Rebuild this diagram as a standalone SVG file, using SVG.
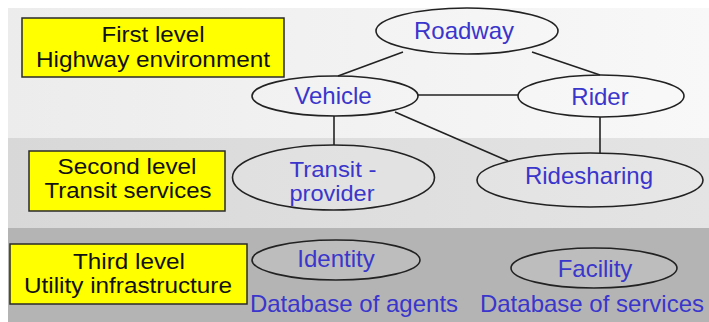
<svg xmlns="http://www.w3.org/2000/svg" width="709" height="322" viewBox="0 0 709 322">
<defs>
<linearGradient id="g1" x1="0" y1="0" x2="1" y2="0">
<stop offset="0" stop-color="#ececec"/>
<stop offset="1" stop-color="#f8f8f8"/>
</linearGradient>
<linearGradient id="g2" x1="0" y1="0" x2="1" y2="0">
<stop offset="0" stop-color="#d8d8d8"/>
<stop offset="1" stop-color="#e4e4e4"/>
</linearGradient>
<style>
.box{fill:#ffff00;stroke:#2a2a2a;stroke-width:1.5}
.lt{font-family:"Liberation Sans",Arial,sans-serif;font-size:22px;fill:#111;text-anchor:middle}
.el{fill:#ffffff;fill-opacity:0.12;stroke:#222;stroke-width:1.6}
.nt{font-family:"Liberation Sans",Arial,sans-serif;font-size:24px;fill:#3a36cc;text-anchor:middle}
.nt2{font-family:"Liberation Sans",Arial,sans-serif;font-size:22px;fill:#3a36cc;text-anchor:middle}
.cn{stroke:#222;stroke-width:1.6;fill:none}
</style>
</defs>
<rect x="0" y="0" width="709" height="322" fill="#ffffff"/>
<rect x="8" y="8" width="701" height="130" fill="url(#g1)"/>
<rect x="8" y="138" width="701" height="90" fill="url(#g2)"/>
<rect x="8" y="228" width="701" height="94" fill="#b4b4b4"/>
<g id="level1">
<rect class="box" x="22" y="18" width="262" height="59"/>
<text class="lt" x="153" y="42" textLength="103" lengthAdjust="spacingAndGlyphs">First level</text>
<text class="lt" x="153" y="67" textLength="234" lengthAdjust="spacingAndGlyphs">Highway environment</text>
</g>
<g id="level2">
<rect class="box" x="29" y="151" width="196" height="60"/>
<text class="lt" x="127" y="174" textLength="139" lengthAdjust="spacingAndGlyphs">Second level</text>
<text class="lt" x="128" y="198" textLength="167" lengthAdjust="spacingAndGlyphs">Transit services</text>
</g>
<g id="level3">
<rect class="box" x="10" y="244" width="237" height="60"/>
<text class="lt" x="129" y="269" textLength="112" lengthAdjust="spacingAndGlyphs">Third level</text>
<text class="lt" x="128" y="293" textLength="208" lengthAdjust="spacingAndGlyphs">Utility infrastructure</text>
</g>
<g id="connectors">
<line class="cn" x1="403" y1="52" x2="338" y2="76"/>
<line class="cn" x1="532" y1="52" x2="600" y2="75"/>
<line class="cn" x1="418" y1="95" x2="518" y2="95"/>
<line class="cn" x1="334" y1="116" x2="334" y2="145"/>
<line class="cn" x1="395" y1="112" x2="508" y2="161"/>
<line class="cn" x1="600" y1="117" x2="600" y2="153"/>
</g>
<g id="roadway">
<ellipse class="el" cx="467" cy="31" rx="91" ry="23"/>
<text class="nt" x="464" y="39">Roadway</text>
</g>
<g id="vehicle">
<ellipse class="el" cx="335" cy="96" rx="83" ry="20"/>
<text class="nt" x="333" y="104">Vehicle</text>
</g>
<g id="rider">
<ellipse class="el" cx="601" cy="96" rx="83" ry="21"/>
<text class="nt" x="600" y="105">Rider</text>
</g>
<g id="transit">
<ellipse class="el" cx="333.5" cy="177.5" rx="101" ry="32.5"/>
<text class="nt2" x="333" y="177" textLength="87" lengthAdjust="spacingAndGlyphs">Transit -</text>
<text class="nt2" x="332" y="201" textLength="85" lengthAdjust="spacingAndGlyphs">provider</text>
</g>
<g id="ridesharing">
<ellipse class="el" cx="590" cy="180" rx="113" ry="27"/>
<text class="nt" x="589" y="184">Ridesharing</text>
</g>
<g id="identity">
<ellipse class="el" cx="336" cy="260" rx="84" ry="20"/>
<text class="nt" x="336" y="267">Identity</text>
<text class="nt" x="354" y="312">Database of agents</text>
</g>
<g id="facility">
<ellipse class="el" cx="594" cy="268" rx="83" ry="20"/>
<text class="nt" x="595" y="277">Facility</text>
<text class="nt" x="592" y="312">Database of services</text>
</g>
</svg>
